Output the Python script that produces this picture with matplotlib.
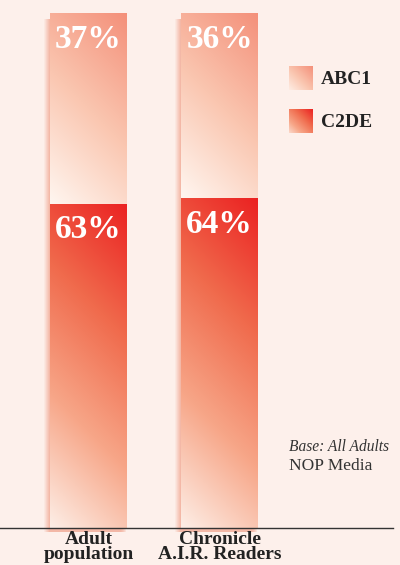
import numpy as np
import matplotlib
matplotlib.use("Agg")
import matplotlib.pyplot as plt
from matplotlib.colors import LinearSegmentedColormap

categories = ["Adult\npopulation", "Chronicle\nA.I.R. Readers"]
series = ["ABC1", "C2DE"]
abc1 = [37, 36]
c2de = [63, 64]
value_labels_abc1 = ["37%", "36%"]
value_labels_c2de = ["63%", "64%"]
source_lines = ["Base: All Adults", "NOP Media"]

BG = "#FDF0EB"
W, H = 400, 565
fig = plt.figure(figsize=(W / 100, H / 100), dpi=100, facecolor=BG)
ax = fig.add_axes([0, 37 / H, 393 / W, 515 / H])
ax.set_facecolor("none")

cmap_abc1 = LinearSegmentedColormap.from_list("abc1", ["#FFF6F0", "#FAC6B0", "#F4907A"])
cmap_c2de = LinearSegmentedColormap.from_list("c2de", ["#FDEEE6", "#F7A688", "#F06A4C", "#EB2222"])

x = np.arange(len(categories))
bw = 77 / 131
px_x = 1 / 131
px_y = 100 / 515

# soft shadow to the left/bottom
tot = np.array(abc1) + np.array(c2de)
for k in range(1, 7):
    ax.bar(x - k * px_x, tot - 2 * px_y, width=bw, bottom=-4 * px_y, color="#EE8466",
           alpha=0.16 - 0.015 * k, linewidth=0, zorder=1, clip_on=False)


def grad_fill(patch, cmap):
    bx, by = patch.get_x(), patch.get_y()
    bw_, bh = patch.get_width(), patch.get_height()
    wpx = bw_ * 131
    hpx = bh * 515 / 100
    n = 200
    u = np.linspace(0, 1, n)[None, :]
    v = np.linspace(1, 0, n)[:, None]
    t = (u * wpx + v * hpx) / (wpx + hpx)
    im = ax.imshow(t, cmap=cmap, vmin=0, vmax=1, extent=[bx, bx + bw_, by, by + bh],
                   aspect="auto", interpolation="bilinear", zorder=2)
    im.set_clip_path(patch)


bars_c2de = ax.bar(x, c2de, width=bw, bottom=0, color="none", linewidth=0, zorder=2)
bars_abc1 = ax.bar(x, abc1, width=bw, bottom=c2de, color="none", linewidth=0, zorder=2)
for p in bars_c2de:
    grad_fill(p, cmap_c2de)
for p in bars_abc1:
    grad_fill(p, cmap_abc1)
ax.set_xlim(-88.5 / 131, (393 - 88.5) / 131)
ax.set_ylim(0, 100)

lab_font = dict(family="Liberation Serif", fontweight="bold", fontsize=24, color="white")
for i in range(len(categories)):
    ax.annotate(value_labels_abc1[i], (x[i], c2de[i] + abc1[i]), xytext=(0, -25.5),
                textcoords="offset points", ha="center", va="baseline", zorder=5, **lab_font)
    ax.annotate(value_labels_c2de[i], (x[i], c2de[i]), xytext=(0, -25.0),
                textcoords="offset points", ha="center", va="baseline", zorder=5, **lab_font)

for s in ["top", "right", "left"]:
    ax.spines[s].set_visible(False)
ax.spines["bottom"].set_color("#333333")
ax.spines["bottom"].set_linewidth(1.0)
ax.spines["bottom"].set_zorder(6)
ax.set_yticks([])
ax.set_xticks(x)
ax.set_xticklabels(categories, family="Liberation Serif", fontweight="bold",
                   fontsize=14, color="#222222")
ax.tick_params(axis="x", length=0, pad=2.5)
for lbl in ax.get_xticklabels():
    lbl.set_linespacing(0.78)

# legend
leg_cmaps = [cmap_abc1, cmap_c2de]
leg_tops = [66, 109]
for name, cm, top in zip(series, leg_cmaps, leg_tops):
    lax = fig.add_axes([289 / W, 1 - (top + 24) / H, 24 / W, 24 / H])
    n = 50
    u = np.linspace(0, 1, n)[None, :]
    v = np.linspace(1, 0, n)[:, None]
    lax.imshow((u + v) / 2 * 0.9 + 0.1, cmap=cm, vmin=0, vmax=1, aspect="auto",
               interpolation="bilinear")
    lax.axis("off")
    fig.text(321 / W, 1 - (top + 18) / H, name, family="Liberation Serif",
             fontweight="bold", fontsize=14, color="#222222", va="baseline", ha="left")

fig.text(289 / W, 1 - 451 / H, source_lines[0], family="Liberation Serif",
         style="italic", fontsize=11.2, color="#333333", va="baseline", ha="left")
fig.text(289 / W, 1 - 470 / H, source_lines[1], family="Liberation Serif",
         fontsize=12.5, color="#333333", va="baseline", ha="left")

fig.savefig("out.png", dpi=100, facecolor=BG)
